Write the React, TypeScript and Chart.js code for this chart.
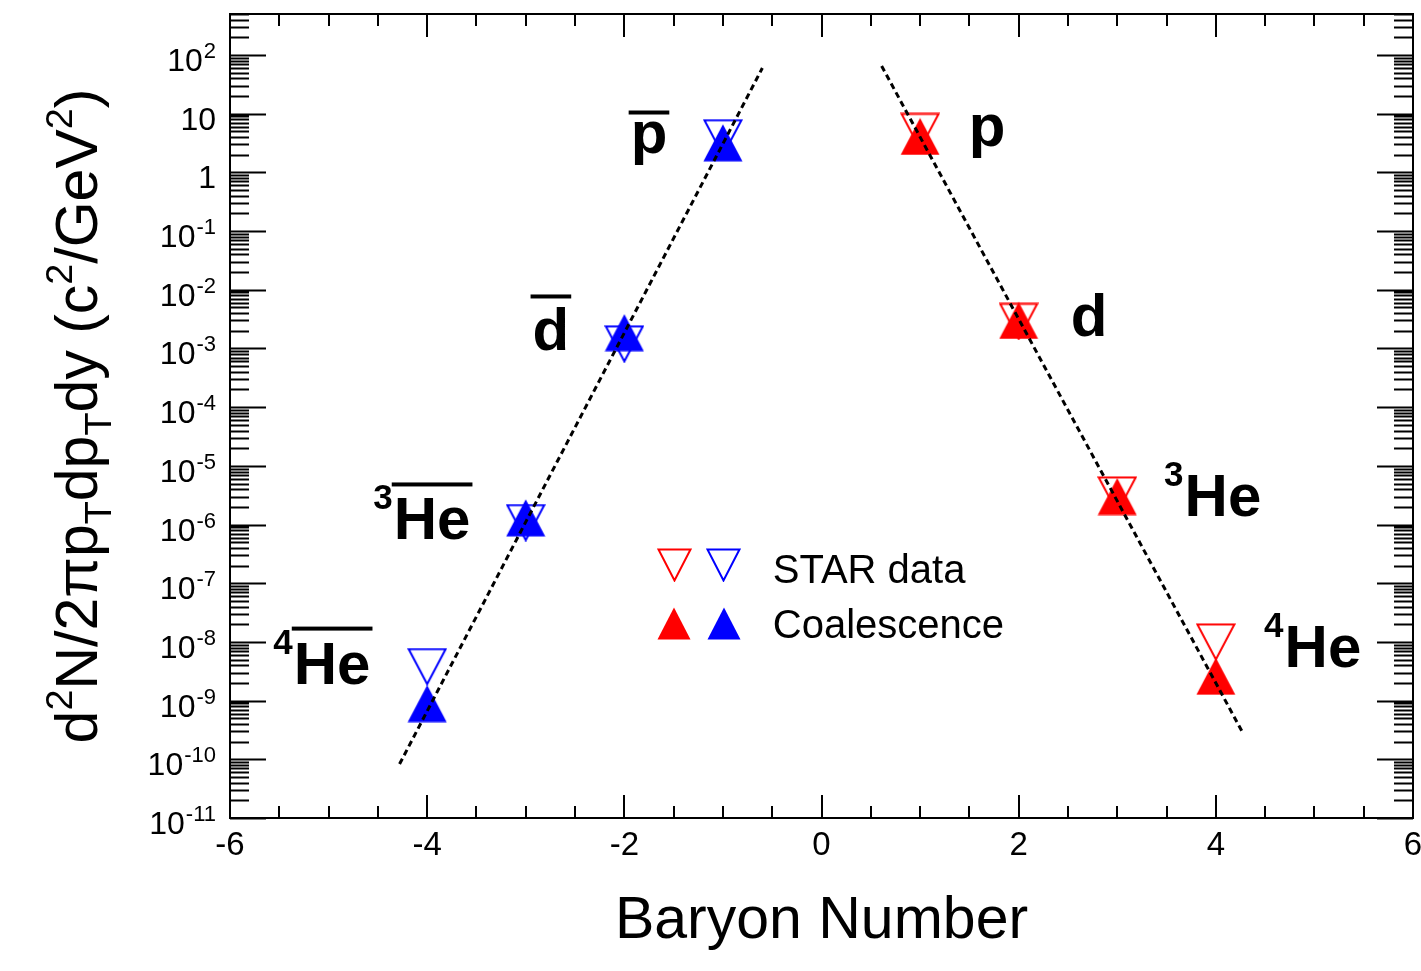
import React, { useEffect, useRef } from "react";
import { Chart, registerables } from "chart.js";

Chart.register(...registerables);

const FONT = '"Liberation Sans", Arial, Helvetica, sans-serif';

// ---------------- data ----------------
const antiBaryon = [-1, -2, -3, -4];
const matterBaryon = [1, 2, 3, 4];
const starAnti = [3.9, 1.2e-3, 1.08e-6, 3.8e-9];
const coalAnti = [3.2, 1.86e-3, 1.3e-6, 8.9e-10];
const starMatter = [5.0, 2.9e-3, 3.2e-6, 1.0e-8];
const coalMatter = [4.1, 3.0e-3, 3.0e-6, 2.6e-9];

const fitAntiX = [-4.28, -0.6];
const fitAntiY = [8.3e-11, 60];
const fitMatterX = [0.61, 4.28];
const fitMatterY = [65, 2.7e-10];

const xTickValues = [-6, -4, -2, 0, 2, 4, 6];
const xTickLabels = ["-6", "-4", "-2", "0", "2", "4", "6"];
const yTickExponents = [2, 1, 0, -1, -2, -3, -4, -5, -6, -7, -8, -9, -10, -11];
const yTickBases = ["10", "10", "1", "10", "10", "10", "10", "10", "10", "10", "10", "10", "10", "10"];
const yTickSups = ["2", "", "", "-1", "-2", "-3", "-4", "-5", "-6", "-7", "-8", "-9", "-10", "-11"];

const particleNames = ["p", "d", "He", "He", "p", "d", "He", "He"];
const particleSups = ["", "", "3", "4", "", "", "3", "4"];
const particleBars = [true, true, true, true, false, false, false, false];

const legendLabels = ["STAR data", "Coalescence"];
const xTitle = "Baryon Number";
// y title segments: [text, kind] kind: 0 normal, 1 superscript, -1 subscript
const yTitleSegments: [string, number][] = [
  ["d", 0], ["2", 1], ["N/2\u03C0p", 0], ["T", -1], ["dp", 0], ["T", -1],
  ["dy (c", 0], ["2", 1], ["/GeV", 0], ["2", 1], [")", 0],
];

// ---------------- layout / style (annotation anchors in data coordinates) ----------------
const particleLabelX = [-1.75, -2.745, -3.95, -4.964, 1.68, 2.713, 4.072, 5.086];
const particleLabelLogY = [0.339, -3.034, -6.254, -8.71, 0.458, -2.78, -5.847, -8.42];
const particleBarRise = [40, 54, 55, 55, 0, 0, 0, 0];
const legendMarkerX = [-1.496, -0.994];
const legendRowLogY = [-6.695, -7.678];
const legendTextX = -0.494;
const legendTextLogY = [-7.0, -7.93];

const RED = "#ff0000";
const BLUE = "#0000ff";

function makeTri(color: string, filled: boolean, up: boolean, w: number, h: number) {
  const c = document.createElement("canvas");
  c.width = w;
  c.height = h;
  const g = c.getContext("2d")!;
  g.beginPath();
  const i = filled ? 0.5 : 1.5;
  if (up) {
    g.moveTo(w / 2, i);
    g.lineTo(w - i, h - i);
    g.lineTo(i, h - i);
  } else {
    g.moveTo(i, i);
    g.lineTo(w - i, i);
    g.lineTo(w / 2, h - i);
  }
  g.closePath();
  if (filled) {
    g.fillStyle = color;
    g.fill();
  } else {
    g.strokeStyle = color;
    g.lineWidth = 2;
    g.lineJoin = "miter";
    g.stroke();
  }
  return c;
}

function drawSegments(ctx: CanvasRenderingContext2D, segs: [string, number][], size: number) {
  let x = 0;
  const small = size * 0.64;
  for (const [t, k] of segs) {
    ctx.font = `${k === 0 ? size : small}px ${FONT}`;
    const dy = k === 1 ? -size * 0.42 : k === -1 ? size * 0.24 : 0;
    ctx.fillText(t, x, dy);
    x += ctx.measureText(t).width;
  }
  return x;
}
function measureSegments(ctx: CanvasRenderingContext2D, segs: [string, number][], size: number) {
  let x = 0;
  const small = size * 0.64;
  for (const [t, k] of segs) {
    ctx.font = `${k === 0 ? size : small}px ${FONT}`;
    x += ctx.measureText(t).width;
  }
  return x;
}

export default function App() {
  const ref = useRef<HTMLCanvasElement | null>(null);

  useEffect(() => {
    const canvas = ref.current;
    if (!canvas) return;

    const openRed = makeTri(RED, false, false, 40, 38);
    const openBlue = makeTri(BLUE, false, false, 40, 38);
    const fillRed = makeTri(RED, true, true, 40, 38);
    const fillBlue = makeTri(BLUE, true, true, 40, 38);
    const lgOpenRed = makeTri(RED, false, false, 35, 34);
    const lgOpenBlue = makeTri(BLUE, false, false, 35, 34);
    const lgFillRed = makeTri(RED, true, true, 34, 33);
    const lgFillBlue = makeTri(BLUE, true, true, 34, 33);

    const framePlugin = {
      id: "rootFrame",
      afterDatasetsDraw(chart: any) {
        const { ctx, chartArea: a, scales } = chart;
        const xs = scales.x;
        const ys = scales.y;
        ctx.save();
        ctx.strokeStyle = "#000";
        ctx.lineWidth = 2;
        ctx.lineCap = "butt";
        ctx.strokeRect(a.left, a.top, a.right - a.left, a.bottom - a.top);

        ctx.beginPath();
        for (let v = -6; v <= 6.001; v += 0.5) {
          const px = Math.round(xs.getPixelForValue(v));
          const major = Math.abs(v / 2 - Math.round(v / 2)) < 1e-6;
          const len = major ? 23 : 12;
          ctx.moveTo(px, a.bottom);
          ctx.lineTo(px, a.bottom - len);
          ctx.moveTo(px, a.top);
          ctx.lineTo(px, a.top + len);
        }
        for (const e of yTickExponents) {
          for (let k = 1; k <= 9; k++) {
            const v = k * Math.pow(10, e);
            if (v > ys.max * 1.0001 || v < ys.min * 0.9999) continue;
            const py = Math.round(ys.getPixelForValue(v)) + 0.5;
            const len = k === 1 ? 36 : 19;
            ctx.moveTo(a.left, py);
            ctx.lineTo(a.left + len, py);
            ctx.moveTo(a.right, py);
            ctx.lineTo(a.right - len, py);
          }
        }
        ctx.stroke();
        ctx.restore();
      },
      afterDraw(chart: any) {
        const { ctx, chartArea: a, scales } = chart;
        const xs = scales.x;
        const ys = scales.y;
        const PX = (v: number) => xs.getPixelForValue(v);
        const PY = (lv: number) => ys.getPixelForValue(Math.pow(10, lv));
        ctx.save();
        ctx.fillStyle = "#000";
        ctx.textBaseline = "alphabetic";

        // x tick labels
        ctx.font = `33px ${FONT}`;
        ctx.textAlign = "center";
        xTickValues.forEach((v, i) => {
          ctx.fillText(xTickLabels[i], PX(v), a.bottom + 37);
        });

        // y tick labels
        yTickExponents.forEach((e, i) => {
          const py = ys.getPixelForValue(Math.pow(10, e));
          const right = a.left - 14;
          ctx.textAlign = "left";
          ctx.font = `22px ${FONT}`;
          const sw = yTickSups[i] ? ctx.measureText(yTickSups[i]).width : 0;
          ctx.font = `32px ${FONT}`;
          const bw = ctx.measureText(yTickBases[i]).width;
          const x0 = right - sw - bw - (sw ? 1 : 0);
          ctx.fillText(yTickBases[i], x0, py + 16);
          if (sw) {
            ctx.font = `22px ${FONT}`;
            ctx.fillText(yTickSups[i], right - sw, py + 3);
          }
        });

        // x title
        ctx.font = `59px ${FONT}`;
        ctx.textAlign = "center";
        ctx.fillText(xTitle, (a.left + a.right) / 2, a.bottom + 120);

        // y title (rotated)
        ctx.textAlign = "left";
        const ySize = 59;
        const tw = measureSegments(ctx, yTitleSegments, ySize);
        ctx.save();
        ctx.translate(a.left - 133, (a.top + a.bottom) / 2 + tw / 2);
        ctx.rotate(-Math.PI / 2);
        drawSegments(ctx, yTitleSegments, ySize);
        ctx.restore();

        // particle labels
        particleNames.forEach((name, i) => {
          const cx = PX(particleLabelX[i]);
          const by = PY(particleLabelLogY[i]);
          ctx.font = `bold 60px ${FONT}`;
          ctx.textAlign = "center";
          const w = ctx.measureText(name).width;
          ctx.fillText(name, cx, by);
          if (particleSups[i]) {
            ctx.font = `bold 35px ${FONT}`;
            ctx.textAlign = "right";
            ctx.fillText(particleSups[i], cx - w / 2 - 1, by - 30);
          }
          if (particleBars[i]) {
            ctx.fillRect(cx - w / 2 - 2, by - particleBarRise[i] - 2, w + 4, 4);
          }
        });

        // legend
        const lgOpen = [lgOpenRed, lgOpenBlue];
        const lgFill = [lgFillRed, lgFillBlue];
        legendMarkerX.forEach((lx, j) => {
          const mx = PX(lx);
          const o = lgOpen[j];
          const f = lgFill[j];
          ctx.drawImage(o, Math.round(mx - o.width / 2), Math.round(PY(legendRowLogY[0]) - o.height / 2));
          ctx.drawImage(f, Math.round(mx - f.width / 2), Math.round(PY(legendRowLogY[1]) - f.height / 2));
        });
        ctx.font = `40px ${FONT}`;
        ctx.textAlign = "left";
        legendLabels.forEach((t, j) => {
          ctx.fillText(t, PX(legendTextX), PY(legendTextLogY[j]));
        });

        ctx.restore();
      },
    };

    const pts = (xs: number[], ys: number[]) => xs.map((x, i) => ({ x, y: ys[i] }));

    const chart = new Chart(canvas, {
      type: "scatter",
      data: {
        datasets: [
          {
            type: "line",
            data: pts(fitAntiX, fitAntiY),
            borderColor: "#000",
            borderWidth: 3,
            borderDash: [6, 4],
            pointRadius: 0,
            showLine: true,
            order: 0,
          } as any,
          {
            type: "line",
            data: pts(fitMatterX, fitMatterY),
            borderColor: "#000",
            borderWidth: 3,
            borderDash: [6, 4],
            pointRadius: 0,
            showLine: true,
            order: 0,
          } as any,
          {
            data: pts(antiBaryon, coalAnti),
            pointStyle: fillBlue,
            pointRadius: 10,
            order: 1,
          },
          {
            data: pts(matterBaryon, coalMatter),
            pointStyle: fillRed,
            pointRadius: 10,
            order: 1,
          },
          {
            data: pts(antiBaryon, starAnti),
            pointStyle: openBlue,
            pointRadius: 10,
            order: 2,
          },
          {
            data: pts(matterBaryon, starMatter),
            pointStyle: openRed,
            pointRadius: 10,
            order: 2,
          },
        ],
      },
      options: {
        animation: false,
        responsive: false,
        devicePixelRatio: 1,
        layout: { autoPadding: false, padding: { left: 230, top: 14, right: 8, bottom: 153 } },
        plugins: { legend: { display: false }, tooltip: { enabled: false } },
        scales: {
          x: { type: "linear", display: false, min: -6, max: 6 },
          y: { type: "logarithmic", display: false, min: 1e-11, max: 500 },
        },
      },
      plugins: [framePlugin],
    });

    return () => chart.destroy();
  }, []);

  return (
    <div style={{ position: "fixed", left: 0, top: 0, width: 1421, height: 971, background: "#fff" }}>
      <canvas ref={ref} width={1421} height={971} style={{ display: "block" }} />
    </div>
  );
}
